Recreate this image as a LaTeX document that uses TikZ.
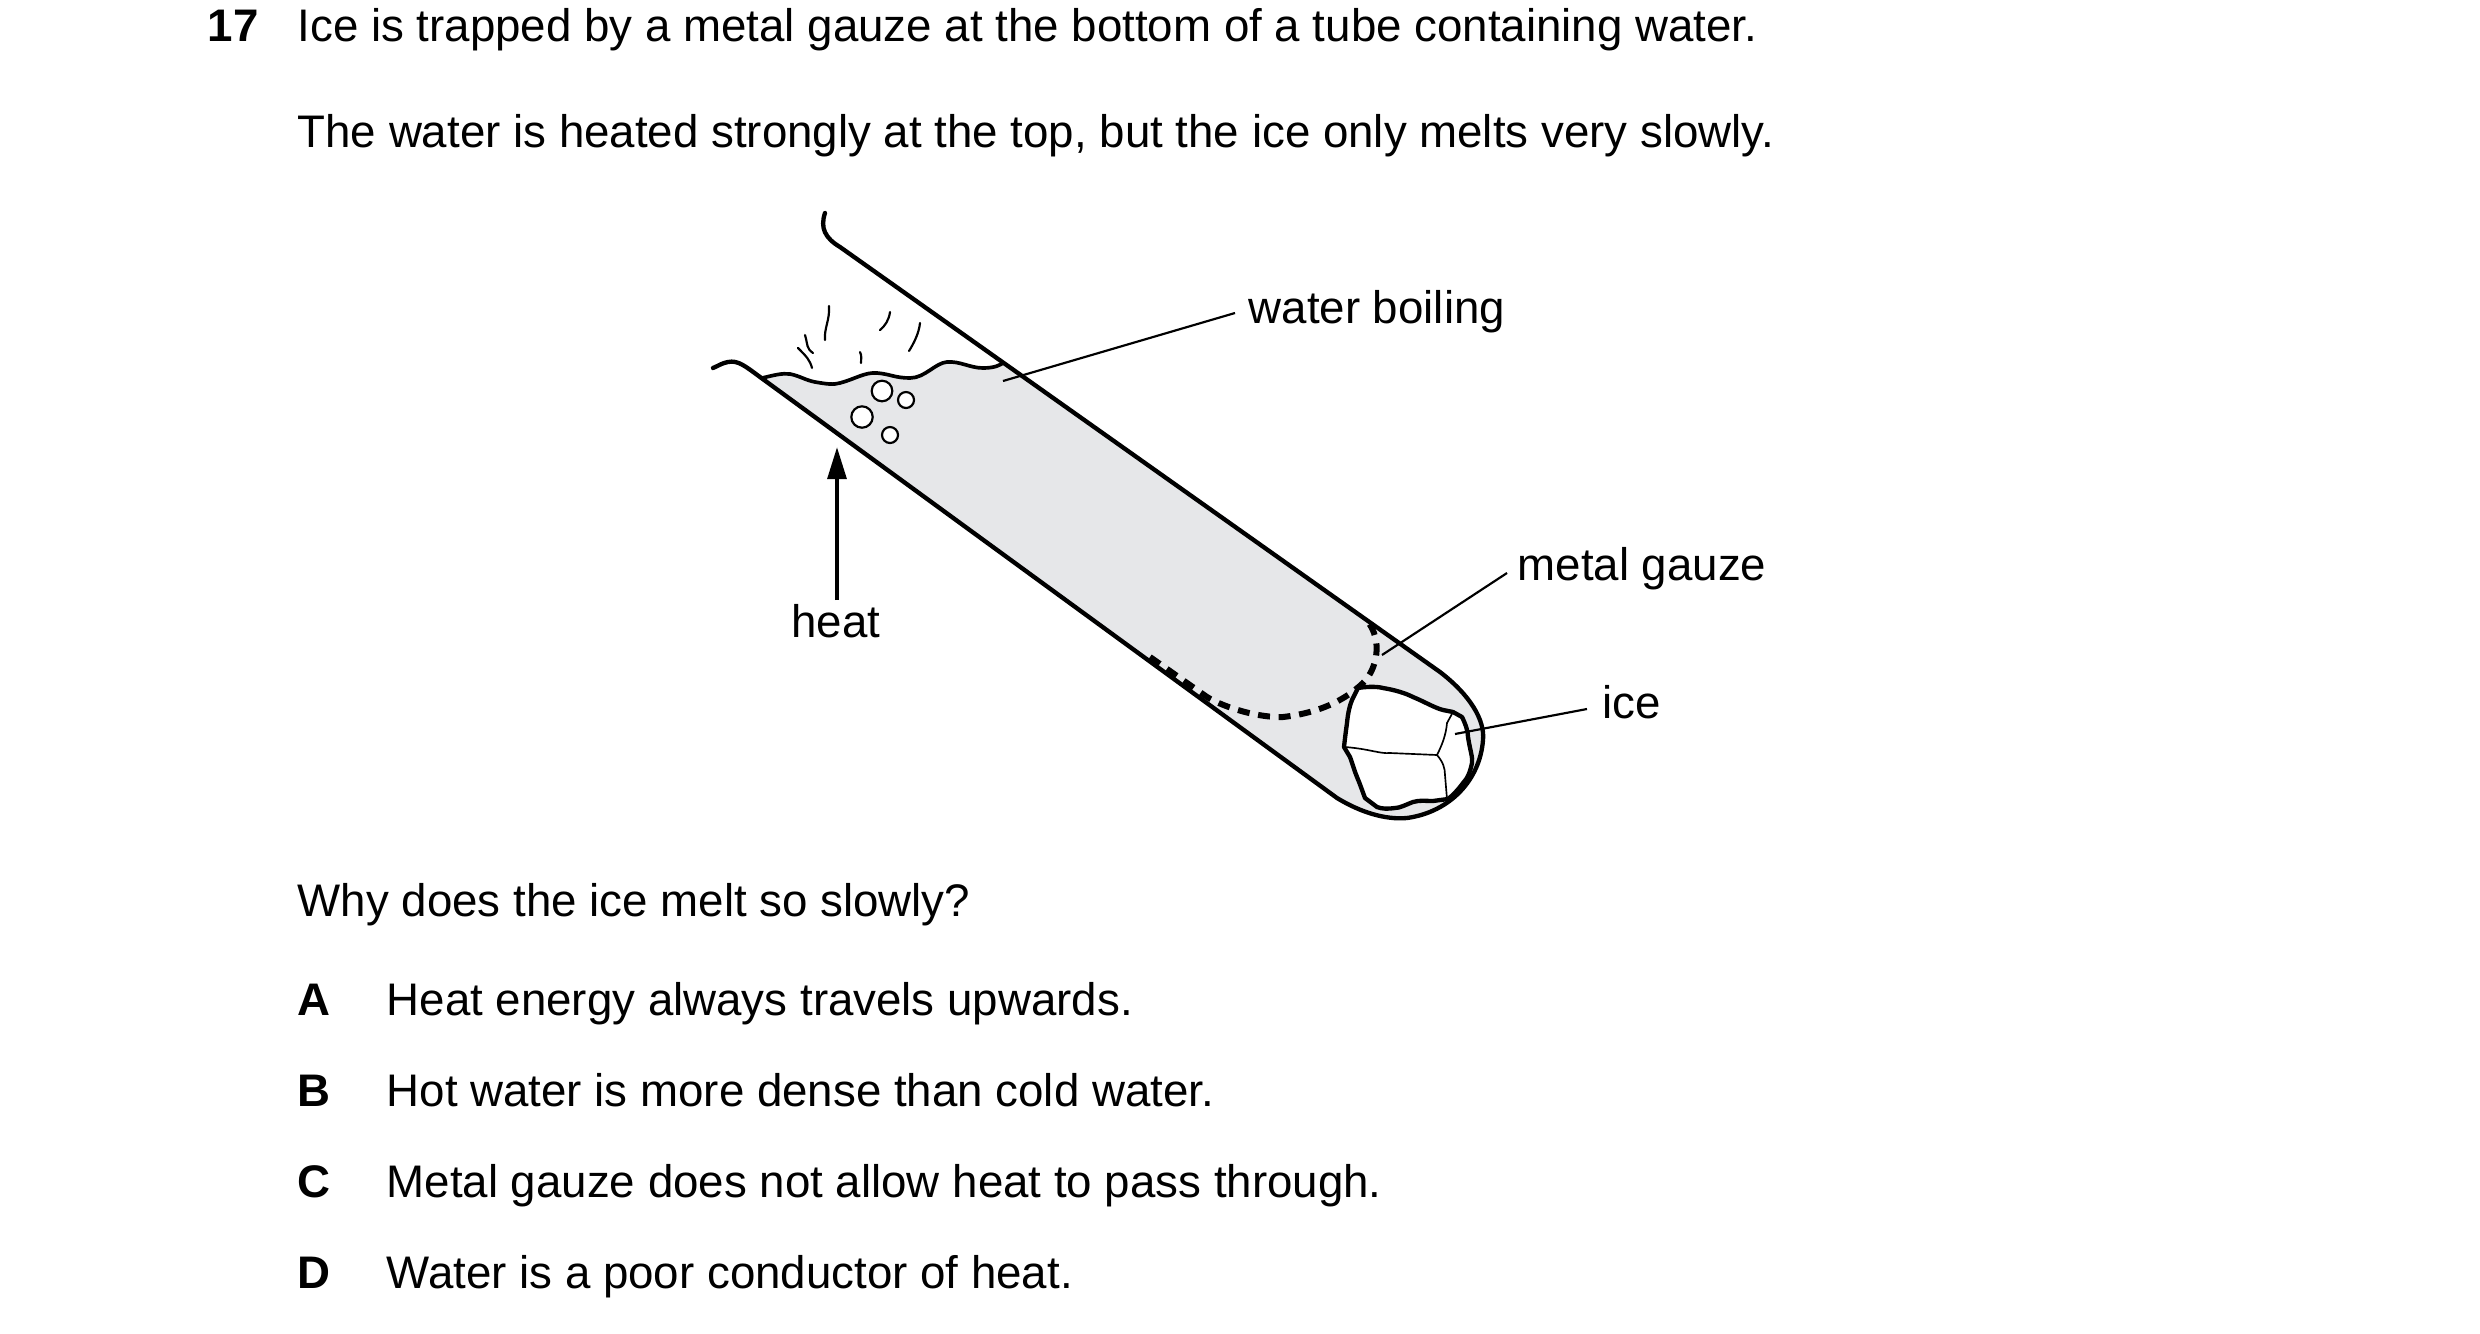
\documentclass[tikz,border=0pt]{standalone}
\usepackage{fontspec}
\setmainfont{Liberation Sans}
\usetikzlibrary{arrows.meta}
\definecolor{water}{HTML}{E6E7E9}
\begin{document}
\begin{tikzpicture}[x=0.3pt,y=-0.3pt,
  txt/.style={font=\fontsize{13.7pt}{16pt}\selectfont, inner sep=0pt, anchor=base west},
  lbl/.style={font=\fontsize{13.7pt}{16pt}\selectfont, inner sep=0pt, anchor=base},
  wall/.style={line width=1.3pt, line cap=round, line join=round},
  leader/.style={line width=0.65pt},
  steam/.style={line width=0.65pt, line cap=round}]
\useasboundingbox (0,0) rectangle (2480,1334);
% question text
\node[txt, font=\fontsize{13.7pt}{16pt}\selectfont\bfseries] (num) at (207,41) {17};
\node[txt] (l1) at (297,41) {Ice is trapped by a metal gauze at the bottom of a tube containing water.};
\node[txt] (l2) at (297,147) {The water is heated strongly at the top, but the ice only melts very slowly.};
\node[txt] (q) at (297,916) {Why does the ice melt so slowly?};
\foreach \L/\T/\Y in {A/{Heat energy always travels upwards.}/1015,
                      B/{Hot water is more dense than cold water.}/1106,
                      C/{Metal gauze does not allow heat to pass through.}/1197,
                      D/{Water is a poor conductor of heat.}/1288}{
  \node[txt, font=\fontsize{13.7pt}{16pt}\selectfont\bfseries] (opt\L) at (297,\Y) {\L};
  \node[txt] (ans\L) at (386,\Y) {\T};
}
% water fill
\fill[water] (762,378) .. controls (775,375) and (782,373) .. (790,374)
  .. controls (800,376) and (805,380) .. (815,382) .. controls (827,384) and (833,385) .. (840,383)
  .. controls (855,379) and (865,372) .. (877,373) .. controls (890,374) and (895,378) .. (910,378)
  .. controls (925,378) and (935,363) .. (947,362) .. controls (960,361) and (970,368) .. (983,368)
  .. controls (995,368) and (1000,365) .. (1003,363)
  -- (1440,672) .. controls (1470,695) and (1485,720) .. (1483,740)
  .. controls (1480,780) and (1450,812) .. (1407,818)
  .. controls (1385,820) and (1360,812) .. (1337,798) -- cycle;
% surface
\draw[wall, line width=1.1pt] (762,378) .. controls (775,375) and (782,373) .. (790,374)
  .. controls (800,376) and (805,380) .. (815,382) .. controls (827,384) and (833,385) .. (840,383)
  .. controls (855,379) and (865,372) .. (877,373) .. controls (890,374) and (895,378) .. (910,378)
  .. controls (925,378) and (935,363) .. (947,362) .. controls (960,361) and (970,368) .. (983,368)
  .. controls (995,368) and (1000,365) .. (1003,363);
% tube
\draw[wall] (825,213) .. controls (820,228) and (825,238) .. (840,247) -- (1440,672)
  .. controls (1470,695) and (1485,720) .. (1483,740)
  .. controls (1480,780) and (1450,812) .. (1407,818)
  .. controls (1385,820) and (1360,812) .. (1337,798)
  -- (760,377) .. controls (745,366) and (738,360) .. (728,362) .. controls (722,363) and (718,366) .. (713,368);
% bubbles
\draw[line width=0.65pt, fill=white] (882,391) circle[radius=10.3] (906,400) circle[radius=8]
  (862,417) circle[radius=10.7] (890,435) circle[radius=8];
% steam
\draw[steam] (798,348) .. controls (806,356) and (810,360) .. (812,368);
\draw[steam] (805,335) .. controls (808,345) and (806,348) .. (813,353);
\draw[steam] (829,306) .. controls (830,320) and (824,328) .. (825,340);
\draw[steam] (860,352) .. controls (862,356) and (861,359) .. (861,363);
\draw[steam] (890,312) .. controls (889,320) and (885,326) .. (880,330);
\draw[steam] (920,323) .. controls (919,333) and (914,343) .. (909,351);
% gauze
\draw[line width=1.8pt, dash pattern=on 3.6pt off 2.6pt] (1150,657) -- (1207,697)
  .. controls (1225,708) and (1260,718) .. (1283,717)
  .. controls (1310,714) and (1340,705) .. (1363,683)
  .. controls (1378,668) and (1382,640) .. (1368,622);
% ice
\draw[wall, fill=white] (1358,688) .. controls (1370,686) and (1380,687) .. (1383,688)
  .. controls (1395,690) and (1405,693) .. (1413,697) .. controls (1425,702) and (1435,708) .. (1443,710)
  -- (1453,712) -- (1462,717) .. controls (1466,725) and (1468,732) .. (1468,737)
  .. controls (1470,750) and (1473,758) .. (1472,763) .. controls (1470,772) and (1468,778) .. (1463,783)
  .. controls (1458,790) and (1452,796) .. (1448,799) -- (1433,801) .. controls (1425,801) and (1420,800) .. (1413,802)
  .. controls (1405,805) and (1400,808) .. (1395,808) .. controls (1388,809) and (1382,809) .. (1377,807)
  -- (1365,798) .. controls (1362,790) and (1360,784) .. (1357,777)
  .. controls (1354,770) and (1352,762) .. (1350,757) -- (1344,747)
  .. controls (1345,738) and (1346,730) .. (1347,723) .. controls (1348,712) and (1350,705) .. (1352,700) -- cycle;
\draw[line width=0.5pt] (1345,747) .. controls (1370,749) and (1380,754) .. (1390,753) -- (1437,755)
  .. controls (1442,745) and (1446,735) .. (1447,723) -- (1453,712);
\draw[line width=0.5pt] (1437,755) .. controls (1443,762) and (1445,768) .. (1445,775) -- (1447,799);
% heat arrow
\node[lbl] (heat) at (836,637) {heat};
\coordinate (heattip) at (837,447);
\draw[line width=1.2pt, -{Triangle[length=9.6pt,width=5.6pt]}] (837,600) -- (heattip);
% labels and leaders
\node[txt] (wb) at (1248,323) {water boiling};
\coordinate (wbend) at (1003,381);
\draw[leader] (wbend) -- (1235,313);
\node[txt] (mg) at (1517,580) {metal gauze};
\coordinate (mgend) at (1382,655);
\draw[leader] (mgend) -- (1507,573);
\node[txt] (ice) at (1602,718) {ice};
\coordinate (iceend) at (1455,734);
\draw[leader] (iceend) -- (1587,709);
\end{tikzpicture}
\end{document}
